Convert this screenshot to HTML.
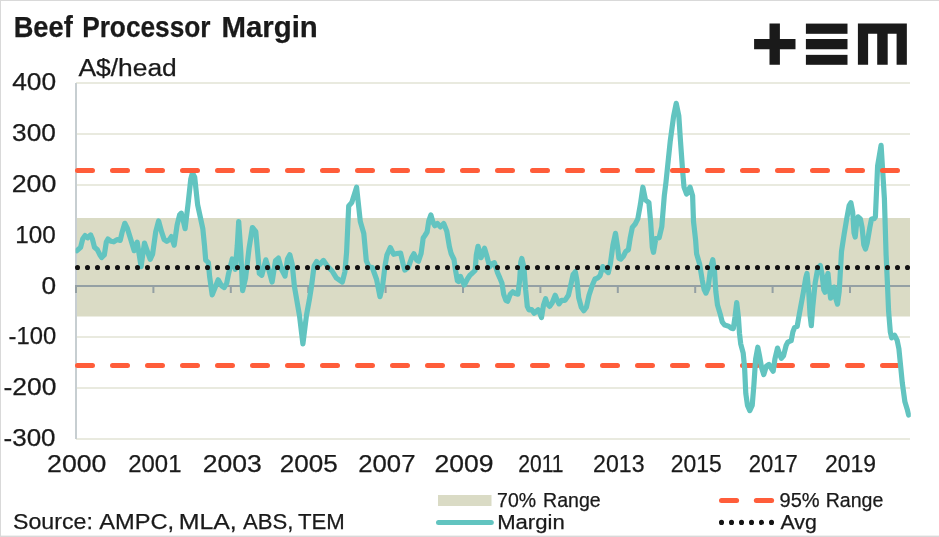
<!DOCTYPE html>
<html>
<head>
<meta charset="utf-8">
<title>Beef Processor Margin</title>
<style>
html,body{margin:0;padding:0;background:#fff;}
body{width:939px;height:537px;overflow:hidden;font-family:"Liberation Sans",sans-serif;}
svg{display:block;}
text{font-family:"Liberation Sans",sans-serif;fill:#1a1a1a;stroke:#1a1a1a;stroke-width:0.25px;}
</style>
</head>
<body>
<svg width="939" height="537" viewBox="0 0 939 537">
  <rect x="0" y="0" width="939" height="537" fill="#ffffff"/>
  <!-- outer frame -->
  <rect x="0" y="0" width="939" height="1" fill="#d9d9d9"/>
  <rect x="0" y="0" width="1" height="537" fill="#d9d9d9"/>
  <rect x="0" y="535.6" width="939" height="1.4" fill="#d9d9d9"/>

  <!-- gridlines -->
  <g fill="#e9eadf">
    <rect x="76" y="82" width="834" height="2"/>
    <rect x="76" y="133" width="834" height="2"/>
    <rect x="76" y="184" width="834" height="2"/>
    <rect x="76" y="235" width="834" height="2"/>
    <rect x="76" y="336" width="834" height="2"/>
    <rect x="76" y="387" width="834" height="2"/>
    <rect x="76" y="438" width="834" height="2"/>
  </g>
  <!-- 70% band -->
  <rect x="76" y="218" width="834" height="98.5" fill="#dadbc5"/>
  <!-- y axis line -->
  <rect x="75" y="83" width="2" height="356" fill="#c7ced1"/>
  <!-- zero line + ticks -->
  <rect x="75" y="285" width="835" height="2" fill="#94a0a4"/>
  <g id="ticks" fill="#94a0a4"><rect x="75.0" y="286" width="2" height="7"/><rect x="152.4" y="286" width="2" height="7"/><rect x="229.8" y="286" width="2" height="7"/><rect x="307.2" y="286" width="2" height="7"/><rect x="384.6" y="286" width="2" height="7"/><rect x="462.0" y="286" width="2" height="7"/><rect x="539.4" y="286" width="2" height="7"/><rect x="616.8" y="286" width="2" height="7"/><rect x="694.2" y="286" width="2" height="7"/><rect x="771.6" y="286" width="2" height="7"/><rect x="849.0" y="286" width="2" height="7"/></g>

  <!-- lower 95% -->
  <line x1="77.5" y1="365.5" x2="908" y2="365.5" stroke="#ff5d3a" stroke-width="5" stroke-linecap="round" stroke-dasharray="15 20"/>
  <!-- margin line -->
  <clipPath id="pc"><rect x="75.6" y="80" width="835.2" height="362"/></clipPath>
  <polyline clip-path="url(#pc)" fill="none" stroke="#62c4c0" stroke-width="5.2" stroke-linejoin="round" stroke-linecap="round" points="76.9,250.7 80.6,247.3 82.8,238.7 85.1,235.6 87.6,237.8 90.6,234.9 92.3,238.7 94.5,247.3 97.4,249.8 100.0,255.0 101.7,257.5 104.3,255.0 106.3,242.1 108.0,239.0 111.1,241.3 113.7,241.8 117.1,239.6 120.2,240.4 122.2,231.9 124.8,223.3 127.4,228.4 130.8,239.6 134.2,250.7 137.2,242.1 139.4,255.8 141.1,266.6 142.8,254.1 144.5,243.0 147.1,250.7 150.2,259.3 152.6,254.1 155.7,231.9 158.6,220.9 161.6,231.9 164.2,239.6 166.8,241.3 169.4,239.6 171.4,236.6 174.2,245.2 177.1,225.0 179.6,214.9 181.3,213.2 183.1,219.9 185.1,228.6 188.2,202.9 190.8,178.9 192.5,172.8 194.7,177.2 197.6,204.6 200.2,216.6 202.8,228.6 204.5,245.6 205.7,260.1 208.4,262.7 209.6,276.4 212.2,294.9 214.8,288.4 218.2,279.8 221.6,285.8 224.2,287.5 226.7,283.2 228.4,274.4 232.2,259.0 235.3,269.3 237.3,245.3 238.7,221.5 240.8,252.1 242.6,290.7 245.6,277.8 249.0,248.7 252.4,227.5 255.8,231.7 258.4,260.7 259.3,273.5 261.8,275.3 265.8,259.8 268.7,269.3 272.1,282.1 275.5,260.7 278.4,258.1 281.5,269.3 285.0,276.1 287.5,259.0 289.8,254.7 292.2,264.1 294.4,286.4 299.5,315.7 302.9,344.0 306.4,315.7 309.3,300.1 311.5,286.4 314.1,265.8 316.6,261.6 319.2,265.0 323.5,260.4 327.8,266.7 332.1,271.0 336.3,277.8 342.3,282.1 344.9,271.8 346.6,252.1 348.7,206.0 351.8,202.6 356.6,187.2 360.3,221.5 363.8,233.5 366.3,260.7 368.9,266.7 372.3,267.5 376.6,279.5 380.0,296.7 382.6,285.8 385.1,265.3 386.9,255.1 390.3,247.5 393.7,254.3 397.1,253.5 400.6,253.1 403.1,263.9 404.8,270.1 408.3,267.3 411.7,257.6 413.9,253.8 416.8,260.3 418.5,261.2 421.1,253.5 423.2,238.0 424.9,235.5 427.1,232.0 428.8,220.9 430.9,214.9 433.1,222.6 434.8,225.7 437.4,223.5 440.3,226.9 443.7,223.5 446.8,231.2 449.4,246.6 451.1,253.5 454.0,259.5 455.4,269.6 457.4,280.7 458.5,281.6 460.5,276.4 462.2,280.7 464.3,285.0 467.4,279.0 469.9,275.2 472.5,273.0 475.1,270.4 476.3,255.0 478.0,246.3 481.1,257.7 484.5,248.3 487.1,256.9 489.6,267.0 492.2,263.6 494.4,262.7 497.3,272.1 499.9,278.1 502.0,283.3 503.7,294.4 505.9,300.4 507.6,301.3 510.2,294.4 512.8,291.8 515.3,293.5 517.9,294.1 519.6,280.7 520.8,261.9 521.8,258.4 523.9,267.0 525.6,289.3 527.3,306.4 529.0,309.8 531.6,309.5 534.2,313.2 538.1,309.8 539.8,313.2 541.5,317.5 543.6,304.7 545.6,298.7 547.3,303.8 549.6,306.4 552.1,303.0 555.2,295.3 557.3,300.4 559.0,303.8 561.6,300.4 565.0,300.4 568.4,295.3 571.0,284.1 573.0,274.7 575.3,271.8 577.0,280.7 578.7,297.8 581.3,307.2 583.8,310.7 586.4,307.2 589.0,295.3 592.4,285.0 595.0,279.0 597.5,278.1 600.1,275.6 602.7,266.6 605.2,269.6 608.3,272.6 610.4,263.6 612.9,245.4 615.5,233.4 617.6,247.1 618.9,258.3 620.7,259.1 623.2,256.5 625.8,251.4 628.4,249.7 630.1,238.6 632.3,227.4 635.2,224.0 637.8,218.9 640.4,204.3 642.9,187.2 645.5,200.0 648.9,202.6 650.6,221.4 652.3,247.1 653.5,252.3 655.8,238.6 659.2,237.7 661.8,226.6 664.3,195.7 666.0,182.0 670.2,141.4 673.7,115.7 676.2,103.4 678.8,115.7 680.5,141.4 682.6,170.5 684.0,187.1 686.6,194.0 690.0,187.1 692.6,195.7 693.5,221.4 695.6,240.0 696.6,253.7 699.6,264.0 702.1,279.4 704.2,289.7 705.9,293.1 708.1,288.0 710.7,267.4 712.8,259.7 714.5,270.8 715.8,291.4 717.5,305.1 720.1,313.7 722.3,322.2 724.7,325.1 728.7,326.2 731.3,328.2 733.3,328.6 735.0,317.1 736.7,302.5 738.4,317.1 739.5,333.5 740.7,343.8 743.2,353.2 744.6,367.8 745.8,393.5 747.5,405.5 749.8,410.6 752.2,405.5 753.9,384.9 755.6,359.2 757.8,347.2 759.5,355.8 761.6,367.8 763.8,374.6 766.4,366.1 768.9,364.4 771.5,368.7 773.2,371.2 774.9,359.2 777.5,348.1 779.6,354.1 781.3,358.4 783.5,355.8 786.1,345.5 787.8,342.1 791.2,340.7 792.9,331.8 794.6,327.5 797.2,326.3 799.4,313.7 803.2,293.1 805.8,277.7 807.0,273.4 808.7,291.4 810.1,315.4 811.3,325.7 812.6,308.5 815.2,282.8 817.8,268.3 820.3,265.4 822.0,274.3 823.8,289.7 825.1,292.2 826.8,277.7 828.0,273.4 829.2,286.3 830.6,298.2 832.7,291.4 834.0,287.1 835.7,298.2 837.5,304.2 839.2,291.4 840.9,262.3 841.5,251.5 844.1,234.4 846.7,219.0 849.2,205.3 850.9,202.7 852.7,212.1 854.0,232.7 855.2,237.0 856.4,225.8 858.1,216.9 860.4,219.0 862.1,227.5 863.8,244.7 865.5,249.0 867.2,243.0 869.8,227.5 871.5,219.0 874.1,218.6 875.4,216.9 877.6,166.0 881.1,145.3 884.4,198.6 886.1,255.0 887.3,280.7 888.6,311.3 890.3,331.9 891.7,337.9 894.6,335.3 897.2,340.4 898.9,348.7 900.6,365.8 902.3,382.9 904.9,401.8 907.5,410.3 908.7,415.1"/>
  <!-- upper 95% -->
  <line x1="77.5" y1="170.4" x2="908" y2="170.4" stroke="#ff5d3a" stroke-width="5" stroke-linecap="round" stroke-dasharray="15 20"/>
  <!-- avg dotted -->
  <line x1="77.5" y1="267.5" x2="910" y2="267.5" stroke="#141414" stroke-width="5.1" stroke-linecap="round" stroke-dasharray="0.01 9.99"/>

  <!-- texts -->
  <g style="filter:grayscale(1)">
  <text x="13.72" y="36.8" font-size="28.8" font-weight="bold" stroke="none" textLength="58.98" lengthAdjust="spacingAndGlyphs">Beef</text>
  <text x="82.16" y="36.8" font-size="28.8" font-weight="bold" stroke="none" textLength="128.38" lengthAdjust="spacingAndGlyphs">Processor</text>
  <text x="221.44" y="36.8" font-size="28.8" font-weight="bold" stroke="none" textLength="96.40" lengthAdjust="spacingAndGlyphs">Margin</text>
  <text x="78.43" y="76.3" font-size="23.3" font-weight="normal" textLength="98.35" lengthAdjust="spacingAndGlyphs">A$/head</text>
  <text x="12.18" y="90.2" font-size="23.6" font-weight="normal" textLength="43.98" lengthAdjust="spacingAndGlyphs">400</text>
  <text x="12.06" y="141.1" font-size="23.6" font-weight="normal" textLength="43.82" lengthAdjust="spacingAndGlyphs">300</text>
  <text x="11.72" y="192.0" font-size="23.6" font-weight="normal" textLength="44.72" lengthAdjust="spacingAndGlyphs">200</text>
  <text x="15.38" y="242.9" font-size="23.6" font-weight="normal" textLength="40.50" lengthAdjust="spacingAndGlyphs">100</text>
  <text x="41.62" y="293.8" font-size="23.6" font-weight="normal" textLength="14.60" lengthAdjust="spacingAndGlyphs">0</text>
  <text x="8.62" y="344.4" font-size="23.6" font-weight="normal" textLength="47.60" lengthAdjust="spacingAndGlyphs">-100</text>
  <text x="3.50" y="395.3" font-size="23.6" font-weight="normal" textLength="52.94" lengthAdjust="spacingAndGlyphs">-200</text>
  <text x="3.56" y="446.2" font-size="23.6" font-weight="normal" textLength="52.04" lengthAdjust="spacingAndGlyphs">-300</text>
  <text x="47.06" y="471.9" font-size="23.1" font-weight="normal" textLength="59.35" lengthAdjust="spacingAndGlyphs">2000</text>
  <text x="128.28" y="471.9" font-size="23.1" font-weight="normal" textLength="53.16" lengthAdjust="spacingAndGlyphs">2001</text>
  <text x="202.72" y="471.9" font-size="23.1" font-weight="normal" textLength="59.00" lengthAdjust="spacingAndGlyphs">2003</text>
  <text x="279.78" y="471.9" font-size="23.1" font-weight="normal" textLength="57.94" lengthAdjust="spacingAndGlyphs">2005</text>
  <text x="358.28" y="471.9" font-size="23.1" font-weight="normal" textLength="57.16" lengthAdjust="spacingAndGlyphs">2007</text>
  <text x="434.56" y="471.9" font-size="23.1" font-weight="normal" textLength="59.00" lengthAdjust="spacingAndGlyphs">2009</text>
  <text x="518.28" y="471.9" font-size="23.1" font-weight="normal" textLength="45.32" lengthAdjust="spacingAndGlyphs">2011</text>
  <text x="593.06" y="471.9" font-size="23.1" font-weight="normal" textLength="51.44" lengthAdjust="spacingAndGlyphs">2013</text>
  <text x="670.78" y="471.9" font-size="23.1" font-weight="normal" textLength="50.94" lengthAdjust="spacingAndGlyphs">2015</text>
  <text x="748.78" y="471.9" font-size="23.1" font-weight="normal" textLength="48.94" lengthAdjust="spacingAndGlyphs">2017</text>
  <text x="825.06" y="471.9" font-size="23.1" font-weight="normal" textLength="50.88" lengthAdjust="spacingAndGlyphs">2019</text>
  <text x="13.00" y="528.7" font-size="22.0" font-weight="normal" textLength="79.84" lengthAdjust="spacingAndGlyphs">Source:</text>
  <text x="99.24" y="528.7" font-size="22.0" font-weight="normal" textLength="74.88" lengthAdjust="spacingAndGlyphs">AMPC,</text>
  <text x="178.66" y="528.7" font-size="22.0" font-weight="normal" textLength="58.12" lengthAdjust="spacingAndGlyphs">MLA,</text>
  <text x="242.96" y="528.7" font-size="22.0" font-weight="normal" textLength="50.44" lengthAdjust="spacingAndGlyphs">ABS,</text>
  <text x="297.96" y="528.7" font-size="22.0" font-weight="normal" textLength="46.88" lengthAdjust="spacingAndGlyphs">TEM</text>
  <text x="497.12" y="506.7" font-size="19.3" font-weight="normal" textLength="38.98" lengthAdjust="spacingAndGlyphs">70%</text>
  <text x="543.06" y="506.7" font-size="19.3" font-weight="normal" textLength="57.60" lengthAdjust="spacingAndGlyphs">Range</text>
  <text x="497.16" y="528.6" font-size="19.3" font-weight="normal" textLength="67.56" lengthAdjust="spacingAndGlyphs">Margin</text>
  <text x="779.56" y="506.7" font-size="19.3" font-weight="normal" textLength="40.10" lengthAdjust="spacingAndGlyphs">95%</text>
  <text x="825.72" y="506.7" font-size="19.3" font-weight="normal" textLength="57.66" lengthAdjust="spacingAndGlyphs">Range</text>
  <text x="780.46" y="528.6" font-size="19.3" font-weight="normal" textLength="36.32" lengthAdjust="spacingAndGlyphs">Avg</text>
  </g>

  <!-- legend -->
  <rect x="438" y="495" width="53.5" height="11" fill="#dadbc5"/>
  <line x1="438.5" y1="522.5" x2="491.3" y2="522.5" stroke="#62c4c0" stroke-width="5" stroke-linecap="round"/>
  <line x1="721.5" y1="500.5" x2="736.6" y2="500.5" stroke="#ff5d3a" stroke-width="5" stroke-linecap="round"/>
  <line x1="756.35" y1="500.5" x2="771.6" y2="500.5" stroke="#ff5d3a" stroke-width="5" stroke-linecap="round"/>
  <line x1="721.5" y1="522.4" x2="772" y2="522.4" stroke="#141414" stroke-width="5.1" stroke-linecap="round" stroke-dasharray="0.01 9.99"/>

  <!-- logo -->
  <g fill="#1a1a1a">
    <path d="M769.5 23.6H779.9V39H795.5V49.25H779.9V64.8H769.5V49.25H754.1V39H769.5Z"/>
    <rect x="805.9" y="23.6" width="41.6" height="10.2"/>
    <rect x="805.9" y="39" width="41.6" height="10.25"/>
    <rect x="805.9" y="54.85" width="41.6" height="9.95"/>
    <path d="M857.9 23.6H906.85V64.8H896.6V33.8H887.7V64.8H877.2V33.8H868.1V64.8H857.9Z"/>
  </g>
</svg>
</body>
</html>
